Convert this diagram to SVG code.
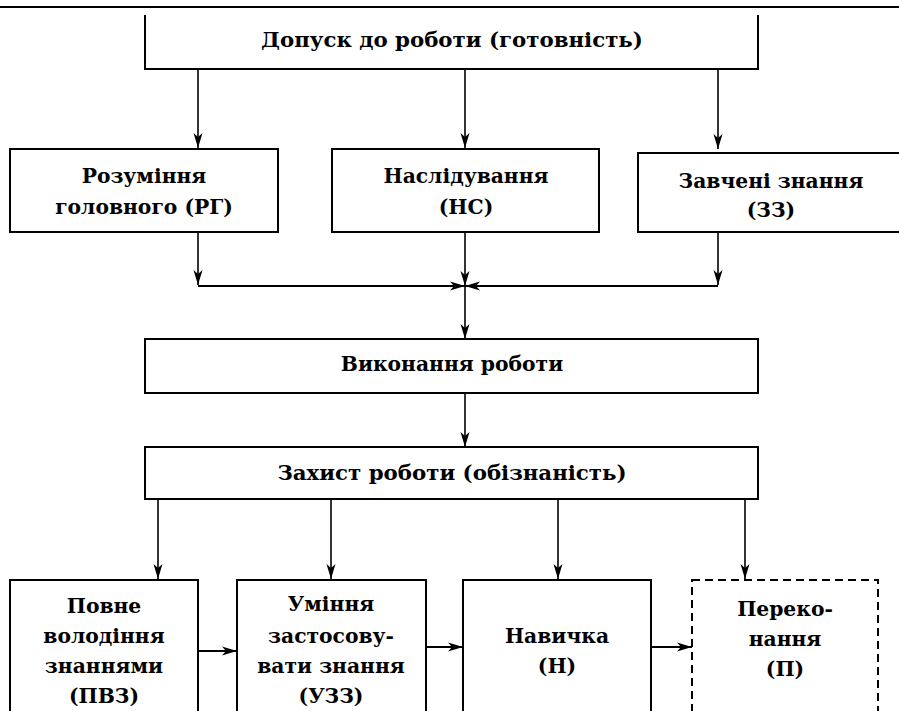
<svg xmlns="http://www.w3.org/2000/svg" width="899" height="711" viewBox="0 0 899 711">
<style>
.box{fill:none;stroke:#000;stroke-width:2}
.dash{fill:none;stroke:#000;stroke-width:2;stroke-dasharray:8 5}
.ln{fill:none;stroke:#000;stroke-width:1.6}
.hl{fill:none;stroke:#000;stroke-width:2.2}
text{font-family:"DejaVu Serif","Liberation Serif",serif;font-weight:bold;font-size:20.3px;fill:#000;text-anchor:middle}
text.big{font-size:21.3px}
</style>
<defs>
<marker id="ah" markerUnits="userSpaceOnUse" markerWidth="16" markerHeight="10" refX="15" refY="5" orient="auto">
<path d="M0,0.5 L15,5 L0,9.5 L4,5 z" fill="#000"/>
</marker>
</defs>
<rect width="899" height="711" fill="#fff"/>
<line x1="0" y1="7" x2="899" y2="7" stroke="#000" stroke-width="2.2"/>

<g id="n-dopusk">
<path class="box" d="M145,15 V69 H758 V15"/>
<text class="big" x="452" y="47">Допуск до роботи (готовність)</text>
</g>
<g id="n-rg">
<rect class="box" x="10" y="149" width="268" height="83"/>
<text x="144" y="183">Розуміння</text>
<text x="144" y="214">головного (РГ)</text>
</g>
<g id="n-ns">
<rect class="box" x="332" y="149" width="267" height="83"/>
<text x="466" y="183">Наслідування</text>
<text x="466" y="214">(НС)</text>
</g>
<g id="n-zz">
<rect class="box" x="638" y="153" width="270" height="79"/>
<text x="771" y="188">Завчені знання</text>
<text x="771" y="217">(ЗЗ)</text>
</g>
<g id="n-vykonannia">
<rect class="box" x="145" y="339" width="613" height="54"/>
<text x="452" y="371">Виконання роботи</text>
</g>
<g id="n-zakhyst">
<rect class="box" x="145" y="447" width="613" height="52"/>
<text class="big" x="452" y="480">Захист роботи (обізнаність)</text>
</g>
<g id="n-pvz">
<rect class="box" x="10" y="580" width="188" height="140"/>
<text x="104" y="613">Повне</text>
<text x="104" y="643">володіння</text>
<text x="104" y="673">знаннями</text>
<text x="104" y="703">(ПВЗ)</text>
</g>
<g id="n-uzz">
<rect class="box" x="237" y="580" width="189" height="140"/>
<text x="331" y="611">Уміння</text>
<text x="331" y="643">застосову-</text>
<text x="331" y="673">вати знання</text>
<text x="331" y="703">(УЗЗ)</text>
</g>
<g id="n-n">
<rect class="box" x="463" y="580" width="188" height="140"/>
<text x="557" y="643">Навичка</text>
<text x="557" y="673">(Н)</text>
</g>
<g id="n-p">
<rect class="dash" x="692" y="580" width="186" height="140"/>
<text x="785" y="616">Переко-</text>
<text x="785" y="646">нання</text>
<text x="785" y="676">(П)</text>
</g>

<g id="connectors">
<line class="ln" x1="198" y1="69" x2="198" y2="148" marker-end="url(#ah)"/>
<line class="ln" x1="465" y1="69" x2="465" y2="148" marker-end="url(#ah)"/>
<line class="ln" x1="718" y1="69" x2="718" y2="149" marker-end="url(#ah)"/>
<line class="ln" x1="198" y1="232" x2="198" y2="285" marker-end="url(#ah)"/>
<line class="ln" x1="465" y1="232" x2="465" y2="286" marker-end="url(#ah)"/>
<line class="ln" x1="718" y1="232" x2="718" y2="285" marker-end="url(#ah)"/>
<line class="hl" x1="198" y1="286" x2="465" y2="286" marker-end="url(#ah)"/>
<line class="hl" x1="718" y1="286" x2="465" y2="286" marker-end="url(#ah)"/>
<line class="ln" x1="465" y1="286" x2="465" y2="339" marker-end="url(#ah)"/>
<line class="ln" x1="465" y1="393" x2="465" y2="447" marker-end="url(#ah)"/>
<line class="ln" x1="158" y1="499" x2="158" y2="579" marker-end="url(#ah)"/>
<line class="ln" x1="331" y1="499" x2="331" y2="579" marker-end="url(#ah)"/>
<line class="ln" x1="558" y1="499" x2="558" y2="579" marker-end="url(#ah)"/>
<line class="ln" x1="745" y1="499" x2="745" y2="579" marker-end="url(#ah)"/>
<line class="hl" x1="198" y1="651" x2="237" y2="651" marker-end="url(#ah)"/>
<line class="hl" x1="426" y1="647" x2="463" y2="647" marker-end="url(#ah)"/>
<line class="hl" x1="651" y1="647" x2="692" y2="647" marker-end="url(#ah)"/>
</g>
</svg>
